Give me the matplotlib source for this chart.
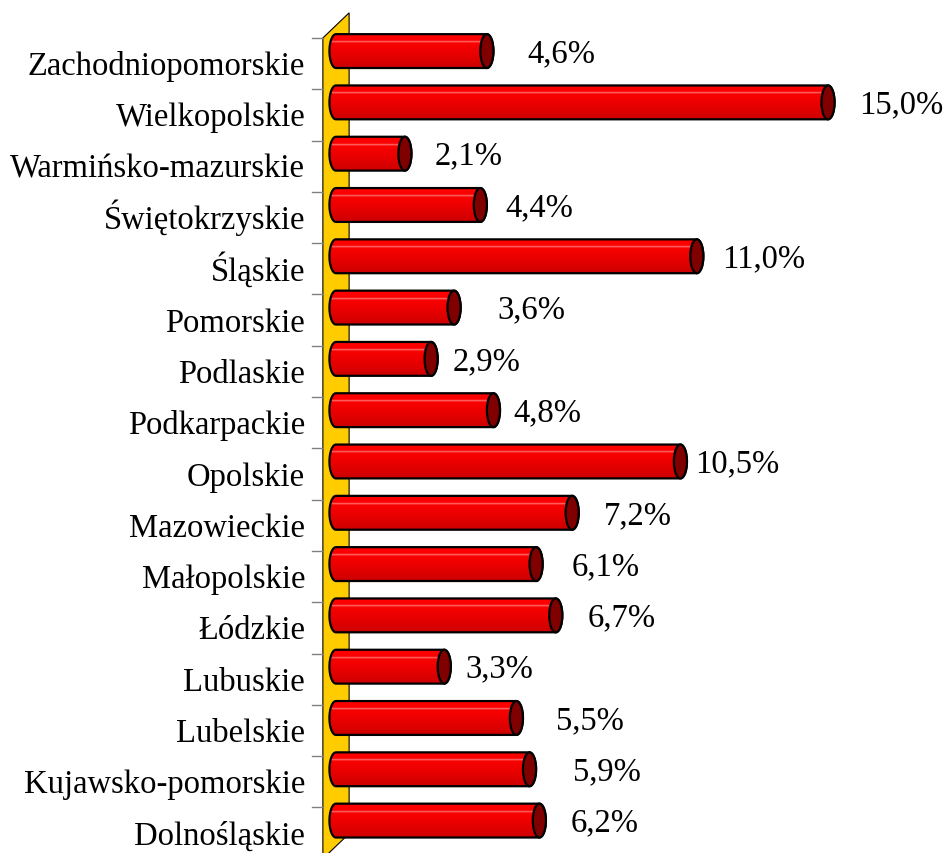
import numpy as np
import matplotlib
matplotlib.use('Agg')
import matplotlib.pyplot as plt
from matplotlib.patches import Polygon, Ellipse, PathPatch
from matplotlib.path import Path

# data, top to bottom as in the chart
regions = ['Zachodniopomorskie', 'Wielkopolskie', 'Warmińsko-mazurskie',
           'Świętokrzyskie', 'Śląskie', 'Pomorskie', 'Podlaskie',
           'Podkarpackie', 'Opolskie', 'Mazowieckie', 'Małopolskie',
           'Łódzkie', 'Lubuskie', 'Lubelskie', 'Kujawsko-pomorskie',
           'Dolnośląskie']
values = [4.6, 15.0, 2.1, 4.4, 11.0, 3.6, 2.9, 4.8, 10.5, 7.2, 6.1, 6.7,
          3.3, 5.5, 5.9, 6.2]

# gap (px) between bar end and value label, as excel placed them
label_gap = [34, 25, 23, 18, 19, 37, 15, 13, 8, 25, 29, 25, 15, 33, 37, 25]

plt.rcParams['font.family'] = ['Liberation Serif', 'DejaVu Serif']
px_x = 32.8   # px per percent
px_y = 51.3   # px per category
fs = 23.5

fig = plt.figure(figsize=(9.44, 8.54), dpi=100)
ax = fig.add_axes([0, 0, 1, 1])

# yellow side wall
wall = Polygon([(-0.4, -0.5), (0.4, -0.99), (0.4, 15.01), (-0.4, 15.5)],
               closed=True, fc='#FFCC00', ec='black', lw=0.8, zorder=1)
ax.add_patch(wall)
for i in range(17):
    ax.plot([-0.73, -0.4], [i - 0.5, i - 0.5], color='#808080', lw=1, zorder=1)

# vertical gradient for cylinders
f = np.linspace(0, 1, 64)
r = 1.0 - 0.2 * f ** 1.5
hl = 0.5 * np.exp(-((f - 0.22) / 0.02) ** 2)
grad = np.zeros((64, 1, 3))
grad[:, 0, 0] = r + (1 - r) * hl
grad[:, 0, 1] = hl
grad[:, 0, 2] = hl

a = 0.2    # cap half width (percent)
h = 0.33   # half height (category units)
x0 = 0.0
for k, (name, v) in enumerate(zip(regions, values)):
    c = k - 0.244
    t1 = np.linspace(-np.pi / 2, np.pi / 2, 40)
    t2 = np.linspace(np.pi / 2, 3 * np.pi / 2, 40)
    xs = np.concatenate([v + a * np.cos(t1), x0 + a * np.cos(t2)])
    ys = np.concatenate([c + h * np.sin(t1), c + h * np.sin(t2)])
    verts = np.column_stack([xs, ys])
    path = Path(np.vstack([verts, verts[:1]]), closed=True)
    body = PathPatch(path, fc='none', ec='black', lw=1.6, zorder=4)
    ax.add_patch(body)
    im = ax.imshow(grad, extent=[x0 - a, v + a, c + h, c - h], origin='upper',
                   aspect='auto', zorder=3, interpolation='bilinear')
    im.set_clip_path(body)
    cap = Ellipse((v, c), 2 * a, 2 * h, fc='#800000', ec='black', lw=1.6, zorder=5)
    ax.add_patch(cap)

    lab = f'{v:.1f}%'.replace('.', ',')
    ax.text(v + a + label_gap[k] / px_x, c + 10 / px_y, lab, fontsize=fs,
            ha='left', va='baseline')
    ax.text(-0.94, k + 10.5 / px_y, name, fontsize=fs, ha='right', va='baseline')

ax.set_xlim(-336 / px_x, (944 - 336) / px_x)
ax.set_ylim((854 - 64.6) / px_y, -64.6 / px_y)
ax.axis('off')

fig.savefig('out.png', dpi=100)
